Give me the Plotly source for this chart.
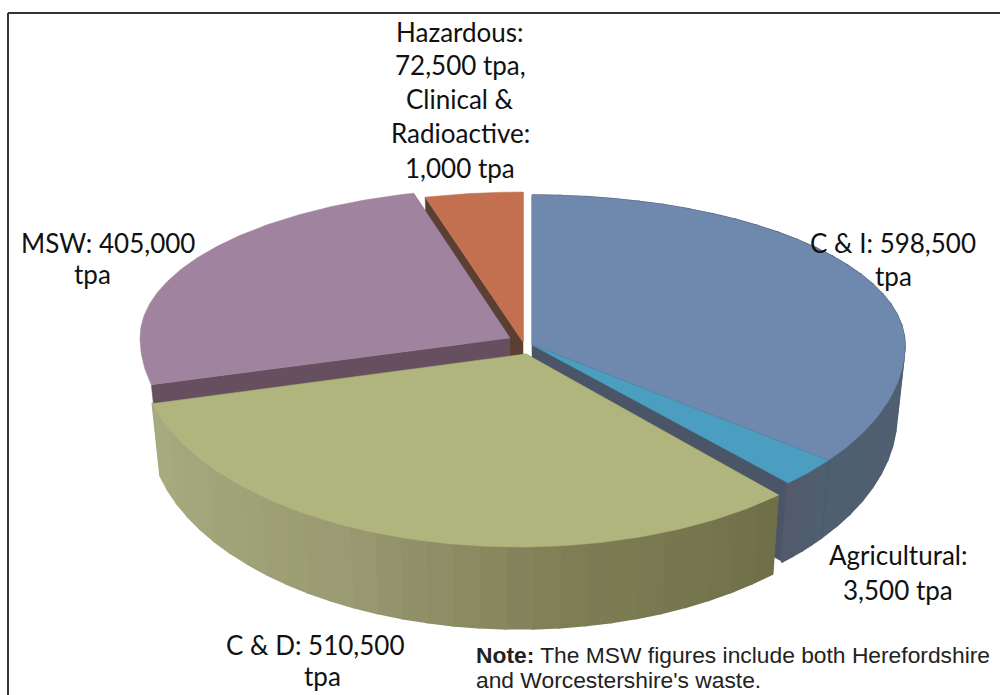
import numpy as np
import plotly.graph_objects as go

# Slice shares as drawn (percent of the pie)
categories = ["C & I", "Agricultural", "C & D", "MSW", "Hazardous, Clinical & Radioactive"]
shares = [35.4, 2.55, 33.1, 24.75, 4.2]

# Label text
label_lines = {
    "Hazardous": ["Hazardous:", "72,500 tpa,", "Clinical &", "Radioactive:", "1,000 tpa"],
    "MSW": ["MSW: 405,000", "tpa"],
    "C & I": ["C & I: 598,500", "tpa"],
    "Agricultural": ["Agricultural:", "3,500 tpa"],
    "C & D": ["C & D: 510,500", "tpa"],
}

# Styling
TOP = ["#6F88AE", "#4C9EC0", "#B0B57E", "#A0849F", "#C2704F"]
CUT = ["#4A4F63", "#4A5568", "#6F7048", "#66505F", "#5C3F33"]
WALL_STOPS = {
    0: [(0, "#5A5E78"), (1, "#4E6070")],
    1: [(0, "#4E6070"), (1, "#535A6C")],
    2: [(0, "#6F7048"), (0.3, "#7E7F55"), (0.6, "#9A9B72"), (1, "#A9AC80")],
}
APEX = [(532, 345), (532, 345), (526, 354), (510, 338), (523, 342)]
RIM_C = [(532, 345), (532, 345), (519, 357), (510, 338), (523, 342)]
RIM_A = [373, 373, 378, 370, 375]
B_BACK = 150
B_FRONT = 190


def hex2rgb(h):
    return np.array([int(h[i:i + 2], 16) for i in (1, 3, 5)], float)


def ramp(stops, f):
    for (f0, c0), (f1, c1) in zip(stops, stops[1:]):
        if f <= f1:
            k = (f - f0) / (f1 - f0)
            c = hex2rgb(c0) * (1 - k) + hex2rgb(c1) * k
            return "rgb(%d,%d,%d)" % tuple(c)
    return stops[-1][1]


def rim(c, t, a, drop=0.0):
    x = c[0] + a * np.sin(t)
    cs = np.cos(t)
    b = np.where(cs > 0, B_BACK, B_FRONT)
    y = c[1] - b * cs + drop
    return x, y


def depth(t):
    return 70 + 12 * np.clip(-np.cos(t), 0, 1)


fig = go.Figure()


def poly(x, y, color, lw=0.5):
    fig.add_trace(go.Scatter(
        x=list(x), y=list(y), mode="lines", fill="toself", fillcolor=color,
        line=dict(color=color, width=lw), hoverinfo="skip", showlegend=False))


edges = np.concatenate([[0], np.cumsum(shares)]) / sum(shares) * 2 * np.pi


def draw_slice(i):
    c, ap, a = RIM_C[i], APEX[i], RIM_A[i]
    t0, t1 = edges[i], edges[i + 1]
    # cut faces
    for t in (t0, t1):
        xr, yr = rim(c, t, a)
        d = depth(t)
        xb, yb = rim(c, t, a - 8, d)
        poly([ap[0], xr, xb, ap[0]], [ap[1], yr, yb, ap[1] + d], CUT[i])
    # outer wall in strips (only slices that face the viewer)
    if i in WALL_STOPS:
        n = max(4, int((t1 - t0) / np.radians(4)))
        ts = np.linspace(t0, t1, n + 1)
        for k in range(n):
            seg = np.linspace(ts[k], ts[k + 1] + 0.004, 4)
            xt, yt = rim(c, seg, a)
            xb, yb = rim(c, seg[::-1], a - 8, depth(seg[::-1]))
            f = (k + 0.5) / n
            poly(np.concatenate([xt, xb]), np.concatenate([yt, yb]), ramp(WALL_STOPS[i], f), 1.5)
    # top
    seg = np.linspace(t0, t1, 120)
    xt, yt = rim(c, seg, a)
    poly(np.concatenate([[ap[0]], xt, [ap[0]]]), np.concatenate([[ap[1]], yt, [ap[1]]]), TOP[i])


for i in (4, 3, 0, 1, 2):
    draw_slice(i)

LABEL_FONT = dict(family="Lato", size=26, color="#111111")


def label(lines, xs, ys):
    for t, x, y in zip(lines, xs, ys):
        fig.add_annotation(x=x, y=y, text=t, showarrow=False, xanchor="center",
                           yanchor="middle", font=LABEL_FONT)


label(label_lines["Hazardous"], [460] * 5, [32, 65, 99, 133, 168])
label(label_lines["MSW"], [108, 92], [243, 274])
label(label_lines["C & I"], [893, 893], [243, 276])
label(label_lines["Agricultural"], [898, 898], [555, 590])
label(label_lines["C & D"], [315, 322], [645, 676])

NOTE_FONT = dict(family="Liberation Sans", size=22.8, color="#222222")
fig.add_annotation(x=474, y=655, xanchor="left", yanchor="middle", showarrow=False, font=NOTE_FONT,
                   text="<b>Note:</b> The MSW figures include both Herefordshire")
fig.add_annotation(x=474, y=680, xanchor="left", yanchor="middle", showarrow=False, font=NOTE_FONT,
                   text="and Worcestershire's waste.")

# frame: left and top rules
fig.add_shape(type="line", x0=8, x1=8, y0=13, y1=695, line=dict(color="#333333", width=2))
fig.add_shape(type="line", x0=8, x1=1000, y0=13, y1=13, line=dict(color="#333333", width=2))

fig.update_layout(
    width=1000, height=695, margin=dict(l=0, r=0, t=0, b=0),
    paper_bgcolor="white", plot_bgcolor="white", showlegend=False,
    xaxis=dict(range=[0, 1000], visible=False, fixedrange=True),
    yaxis=dict(range=[695, 0], visible=False, fixedrange=True),
)
fig.write_html("out.html", config={"displayModeBar": False},
               post_script="document.body.style.margin='0';")
